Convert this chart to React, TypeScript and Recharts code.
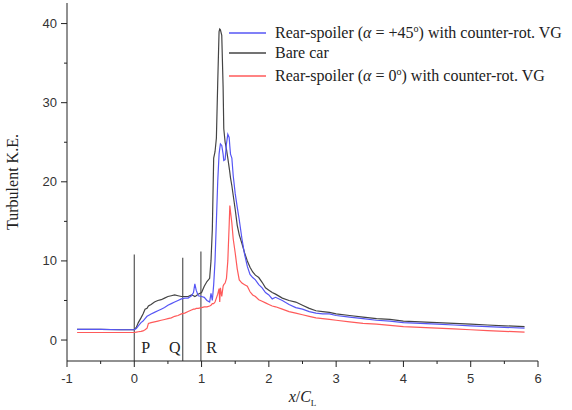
import { LineChart, Line, XAxis, YAxis, ReferenceLine, ReferenceDot } from "recharts";

// x/C_L positions shared by the three series
const xPos = [
  -0.85, -0.5, -0.2, 0.0, 0.03, 0.06, 0.1, 0.13, 0.16, 0.19, 0.21, 0.25, 0.3, 0.35, 0.4, 0.45,
  0.5, 0.55, 0.6, 0.65, 0.7, 0.75, 0.8, 0.85, 0.88, 0.9, 0.92, 0.95, 1.0, 1.04, 1.08, 1.12,
  1.14, 1.16, 1.18, 1.2, 1.22, 1.24, 1.26, 1.27, 1.28, 1.3, 1.32, 1.33, 1.35, 1.37, 1.39, 1.41,
  1.42, 1.43, 1.45, 1.47, 1.5, 1.53, 1.56, 1.6, 1.64, 1.68, 1.72, 1.76, 1.8, 1.85, 1.9, 1.95,
  2.0, 2.05, 2.1, 2.2, 2.3, 2.4, 2.5, 2.6, 2.7, 2.8, 2.9, 3.0, 3.2, 3.4, 3.6, 3.8,
  4.0, 4.25, 4.5, 4.75, 5.0, 5.25, 5.5, 5.8,
];

const bareCar = [
  1.35, 1.35, 1.3, 1.3, 1.6, 2.2, 2.8, 3.3, 3.9, 4.0, 4.3, 4.5, 4.8, 5.0, 5.1, 5.3,
  5.5, 5.6, 5.7, 5.6, 5.5, 5.5, 5.5, 5.7, 5.6, 5.5, 5.6, 5.8, 6.0, 6.8, 7.4, 7.8,
  10.0, 14.0, 23.0, 23.8, 25.5, 32.5, 39.0, 39.3, 39.2, 38.5, 32.0, 26.7, 25.0, 24.1, 23.0, 21.8,
  21.2, 20.5, 19.5, 18.3, 16.5, 14.5, 13.3, 12.2, 11.0, 10.0, 9.2, 8.6, 8.2, 7.9, 7.3, 6.6,
  6.3, 6.0, 5.8, 5.3, 5.0, 4.8, 4.4, 4.0, 3.7, 3.6, 3.5, 3.3, 3.1, 2.9, 2.7, 2.6,
  2.4, 2.3, 2.2, 2.1, 2.0, 1.9, 1.8, 1.7,
];

const spoiler45 = [
  1.35, 1.35, 1.3, 1.3, 1.45, 1.8, 2.2, 2.4, 2.7, 3.0, 3.1, 3.3, 3.5, 3.7, 3.9, 4.1,
  4.4, 4.6, 4.8, 5.0, 5.2, 5.3, 5.3, 5.6, 6.0, 7.1, 6.3, 5.6, 5.5, 5.4, 5.0, 4.8,
  5.9, 5.0, 7.0, 10.0, 15.0, 20.0, 23.5, 24.2, 24.8, 24.6, 23.5, 22.7, 22.8, 24.8, 26.0, 25.6,
  24.5, 23.5, 23.0, 20.8, 18.5, 16.8, 15.2, 12.8, 10.8, 9.3, 8.3, 7.9, 7.6, 7.0, 6.6, 6.0,
  5.7, 5.2, 5.4, 5.0, 4.5, 4.1, 3.9, 3.6, 3.4, 3.3, 3.3, 3.1, 2.9, 2.7, 2.5, 2.4,
  2.2, 2.1, 2.0, 1.9, 1.8, 1.7, 1.6, 1.5,
];

const spoiler0 = [
  0.95, 0.95, 0.95, 0.95, 1.0, 1.05, 1.1, 1.15, 1.3, 1.5, 2.1, 2.2, 2.3, 2.4, 2.5, 2.6,
  2.7, 2.8, 3.0, 3.1, 3.3, 3.4, 3.6, 3.8, 3.9, 3.9, 4.0, 4.0, 4.1, 4.2, 4.2, 4.3,
  4.4, 4.6, 4.6, 4.8, 5.3, 5.8, 6.5, 4.8, 6.6, 5.5, 6.8, 7.0, 7.2, 7.8, 10.0, 14.5,
  17.0, 16.2, 14.8, 12.8, 11.0, 9.0, 7.6, 7.2, 7.0, 6.8, 6.1, 5.7, 5.5, 5.1, 4.9, 4.7,
  4.5, 4.3, 4.2, 3.9, 3.6, 3.4, 3.2, 3.0, 2.8, 2.7, 2.6, 2.5, 2.3, 2.1, 2.0, 1.85,
  1.7, 1.6, 1.5, 1.4, 1.3, 1.2, 1.1, 1.0,
];

const xTicks = [-1, -0.5, 0, 0.5, 1, 1.5, 2, 2.5, 3, 3.5, 4, 4.5, 5, 5.5, 6];
const yTicks = [0, 5, 10, 15, 20, 25, 30, 35, 40];

// vertical station markers P, Q, R
const markerNames = ["P", "Q", "R"];
const markerX = [0, 0.72, 0.99];
const markerTop = [10.8, 10.4, 11.2];
const markerLabelX = [0.17, 0.6, 1.15];

const Y_MIN = -2.65;
const Y_MAX = 42.6;

const data = xPos.map((x, i) => ({
  x,
  bare: bareCar[i],
  s45: spoiler45[i],
  s0: spoiler0[i],
}));

const serif = "'Liberation Serif', 'Times New Roman', serif";
const sans = "'Liberation Sans', Arial, sans-serif";

const BLUE = "#5656f5";
const BLACK = "#444";
const RED = "#ff5a5a";

function XTick({ x, y, payload }: any) {
  const major = Number.isInteger(payload.value);
  return (
    <g>
      <line x1={x} y1={y} x2={x} y2={y + (major ? 6 : 3)} stroke="#222" />
      {major && (
        <text x={x} y={y + 22} textAnchor="middle" fontFamily={sans} fontSize={13} fill="#333">
          {payload.value}
        </text>
      )}
    </g>
  );
}

function YTick({ x, y, payload }: any) {
  const major = payload.value % 10 === 0;
  return (
    <g>
      <line x1={x} y1={y} x2={x - (major ? 6 : 3)} y2={y} stroke="#222" />
      {major && (
        <text x={x - 10} y={y + 4.5} textAnchor="end" fontFamily={sans} fontSize={13} fill="#333">
          {payload.value}
        </text>
      )}
    </g>
  );
}

const legendRows = [
  { color: BLUE, h: 20, label: <>Rear-spoiler (<i>α</i> = +45<sup style={{ fontSize: 10 }}>o</sup>) with counter-rot. VG</> },
  { color: BLACK, h: 20, label: <>Bare car</> },
  { color: RED, h: 26, label: <>Rear-spoiler (<i>α</i> = 0<sup style={{ fontSize: 10 }}>o</sup>) with counter-rot. VG</> },
];

function LegendBox() {
  return (
    <div style={{ position: "absolute", top: 23, left: 229, fontFamily: serif, fontSize: 16, color: "#222" }}>
      {legendRows.map((r, i) => (
        <div key={i} style={{ display: "flex", alignItems: "center", height: r.h, whiteSpace: "nowrap" }}>
          <svg width={42} height={4} style={{ marginRight: 4 }}>
            <line x1={0} y1={2} x2={37} y2={2} stroke={r.color} strokeWidth={1.3} />
          </svg>
          <span>{r.label}</span>
        </div>
      ))}
    </div>
  );
}

export default function App() {
  return (
    <div style={{ position: "absolute", left: 0, top: 0, width: 572, height: 410, background: "#fff" }}>
      <LineChart width={572} height={410} data={data} margin={{ top: 3, right: 34, bottom: 0, left: 0 }}>
        <XAxis
          type="number"
          dataKey="x"
          domain={[-1, 6]}
          ticks={xTicks}
          interval={0}
          tickSize={0}
          tickMargin={0}
          tick={<XTick />}
          stroke="#222"
          height={49}
          label={{
            content: (p: any) => {
              const vb = p.viewBox;
              const cx = vb.x + vb.width / 2;
              return (
                <text x={cx} y={vb.y + 41} textAnchor="middle" fontFamily={serif} fontSize={16} fill="#222">
                  <tspan fontStyle="italic">x</tspan>
                  <tspan>/</tspan>
                  <tspan fontStyle="italic">C</tspan>
                  <tspan fontSize={9} dy={4}>L</tspan>
                </text>
              );
            },
          }}
        />
        <YAxis
          type="number"
          domain={[Y_MIN, Y_MAX]}
          ticks={yTicks}
          interval={0}
          allowDataOverflow
          tickSize={0}
          tickMargin={0}
          tick={<YTick />}
          stroke="#222"
          width={67}
          label={{
            content: (p: any) => {
              const vb = p.viewBox;
              const cy = vb.y + vb.height / 2;
              return (
                <text
                  x={18}
                  y={cy}
                  transform={`rotate(-90, 18, ${cy})`}
                  textAnchor="middle"
                  fontFamily={serif}
                  fontSize={16}
                  fill="#222"
                >
                  Turbulent K.E.
                </text>
              );
            },
          }}
        />
        {markerX.map((mx, i) => (
          <ReferenceLine
            key={`m-${i}`}
            segment={[
              { x: mx, y: Y_MIN },
              { x: mx, y: markerTop[i] },
            ]}
            stroke="#555"
            strokeWidth={1.2}
            ifOverflow="visible"
          />
        ))}
        {markerNames.map((name, i) => (
          <ReferenceDot
            key={`l-${i}`}
            x={markerLabelX[i]}
            y={-0.9}
            r={0}
            stroke="none"
            fill="none"
            label={{ value: name, position: "center", fontFamily: serif, fontSize: 16, fill: "#222" }}
          />
        ))}
        <Line type="linear" dataKey="bare" stroke={BLACK} strokeWidth={1.2} dot={false} isAnimationActive={false} />
        <Line type="linear" dataKey="s45" stroke={BLUE} strokeWidth={1.2} dot={false} isAnimationActive={false} />
        <Line type="linear" dataKey="s0" stroke={RED} strokeWidth={1.2} dot={false} isAnimationActive={false} />
      </LineChart>
      <LegendBox />
    </div>
  );
}
